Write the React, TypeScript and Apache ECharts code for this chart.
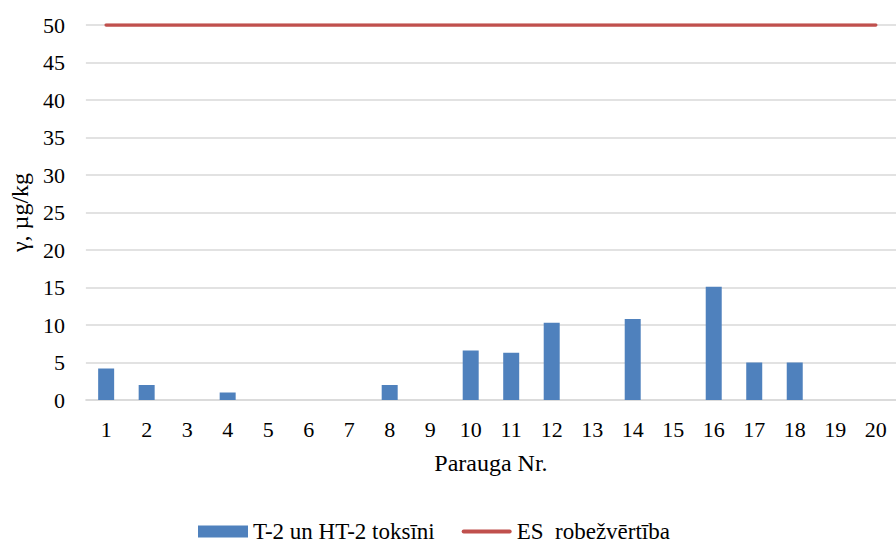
import React, { useEffect, useRef } from "react";
import * as echarts from "echarts";

// Sample numbers 1..20
const categories: string[] = [
  "1", "2", "3", "4", "5", "6", "7", "8", "9", "10",
  "11", "12", "13", "14", "15", "16", "17", "18", "19", "20",
];

// T-2 + HT-2 toxin content, µg/kg
const toxinValues: number[] = [
  4.2, 2.0, 0, 1.0, 0, 0, 0, 2.0, 0, 6.6,
  6.3, 10.3, 0, 10.8, 0, 15.1, 5.0, 5.0, 0, 0,
];

// EU limit value, µg/kg
const limitValue = 50;
const limitValues: number[] = categories.map(() => limitValue);

const FONT = "Times New Roman, Liberation Serif, DejaVu Serif, serif";
const txt = (size: number) => ({ fontFamily: FONT, fontSize: size, color: "#000" });

export default function App() {
  const ref = useRef<HTMLDivElement>(null);

  useEffect(() => {
    if (!ref.current) return;
    const chart = echarts.init(ref.current, undefined, { renderer: "svg" });
    chart.setOption({
      animation: false,
      backgroundColor: "#ffffff",
      textStyle: { fontFamily: FONT, color: "#000" },
      grid: { left: 84, top: 25, width: 815, bottom: 144, containLabel: false },
      legend: {
        top: 515,
        left: 193,
        itemWidth: 50,
        itemHeight: 12,
        itemGap: 27,
        textStyle: txt(23),
        data: [
          { name: "T-2 un HT-2 toksīni", icon: "rect" },
          {
            name: "ES  robežvērtība",
            icon: "path://M2,0 L48,0 A2,2 0 0 1 48,4 L2,4 A2,2 0 0 1 2,0 Z",
          },
        ],
      },
      xAxis: {
        type: "category",
        data: categories,
        name: "Parauga Nr.",
        nameLocation: "middle",
        nameGap: 51,
        nameTextStyle: txt(24),
        axisLine: { show: true, lineStyle: { color: "#d9d9d9", width: 1.5 } },
        axisTick: { show: false },
        axisLabel: { ...txt(22), margin: 18 },
      },
      yAxis: {
        type: "value",
        min: 0,
        max: 50,
        interval: 5,
        name: "γ, µg/kg",
        nameLocation: "middle",
        nameGap: 51,
        nameTextStyle: txt(24),
        axisLine: { show: false },
        axisTick: { show: false },
        axisLabel: { ...txt(22), margin: 21 },
        splitLine: { lineStyle: { color: "#d9d9d9", width: 1.5 } },
      },
      series: [
        {
          name: "T-2 un HT-2 toksīni",
          type: "bar",
          data: toxinValues,
          barWidth: 16,
          itemStyle: { color: "#4f81bd" },
        },
        {
          name: "ES  robežvērtība",
          type: "line",
          data: limitValues,
          symbol: "none",
          lineStyle: { color: "#c0504d", width: 3.5, cap: "round" },
          itemStyle: { color: "#c0504d" },
        },
      ],
    });
    return () => chart.dispose();
  }, []);

  return (
    <div
      ref={ref}
      style={{ position: "fixed", left: 0, top: 0, width: 896, height: 544 }}
    />
  );
}
